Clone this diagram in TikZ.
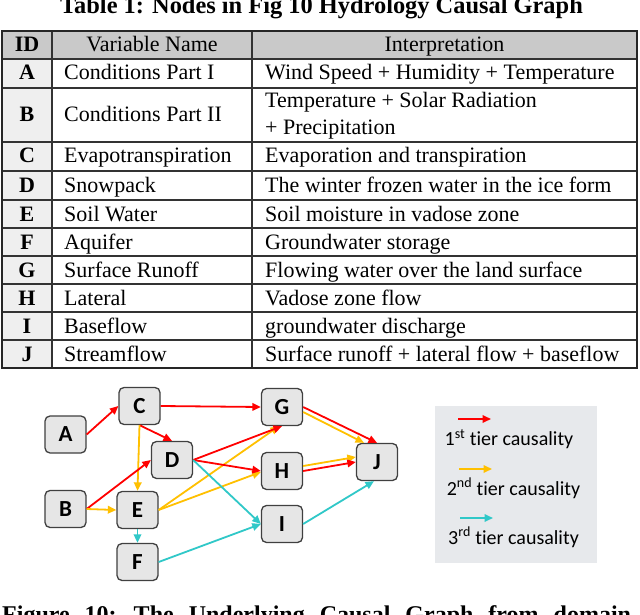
\documentclass[tikz,border=0pt]{standalone}
\usepackage{fontspec}
\setmainfont{Liberation Serif}
\newfontfamily\calibri[Ligatures=NoCommon]{Carlito}
\usepackage{xcolor}
\usepackage{tikz}
\usetikzlibrary{arrows.meta,positioning}
\definecolor{tred}{HTML}{FF0000}
\definecolor{tgold}{HTML}{FFC000}
\definecolor{tcyan}{HTML}{30C8C8}
\definecolor{boxgray}{HTML}{E6E6E6}
\definecolor{headgray}{HTML}{C9C9C9}
\definecolor{idgray}{HTML}{EFEFEF}
\definecolor{leggray}{HTML}{E7E9EC}

\begin{document}
\begin{tikzpicture}[x=1pt,y=-1pt,
  var/.style={draw=black!75, fill=boxgray, rounded corners=5pt, line width=1.3pt,
              minimum width=41pt, minimum height=37pt, inner sep=0pt,
              font=\calibri\bfseries\fontsize{23}{26}\selectfont},
  tier1/.style={draw=tred, line width=1.8pt, -{Triangle[length=8.5pt,width=7.5pt]}},
  tier2/.style={tier1, draw=tgold},
  tier3/.style={tier1, draw=tcyan},
  cell/.style={anchor=base west, inner sep=0pt, font=\fontsize{22}{27}\selectfont},
  idcell/.style={anchor=base, inner sep=0pt, font=\bfseries\fontsize{22}{27}\selectfont},
  legtext/.style={inner sep=0pt, font=\calibri\fontsize{20}{24}\selectfont}]

  \useasboundingbox (0,0) rectangle (640,615);
  \clip (0,0) rectangle (640,615);
  \fill[white] (0,0) rectangle (640,615);

  % titulo e legenda (cortados)
  \node[anchor=base, inner sep=0pt, font=\bfseries\fontsize{24.4}{28}\selectfont] (title)
    at (321.5,14) {Table 1: Nodes in Fig 10 Hydrology Causal Graph};
  \node[anchor=base west, inner sep=0pt, font=\bfseries\fontsize{24}{28}\selectfont] (caption)
    at (2,622) {\spaceskip=15pt Figure 10: The Underlying Causal Graph from domain};

  % tabela: fundos
  \fill[headgray] (2,31) rectangle (637,59);
  \fill[idgray]   (2,59) rectangle (52,368);

  % tabela: linhas
  \foreach \ry in {59,88,142,171,200,228,256,284,312,340}
    \draw[black!80, line width=1.2pt] (2,\ry) -- (637,\ry);
  \draw[black!80, line width=1.2pt] (52,31) -- (52,368);
  \draw[black!80, line width=1.2pt] (252,31) -- (252,368);
  \draw[black!85, line width=1.5pt] (2,31) rectangle (637,368);

  % cabecalho
  \node[idcell] (hid) at (27,52) {ID};
  \node[anchor=base, inner sep=0pt, font=\fontsize{22}{27}\selectfont] (hname) at (152,52) {Variable Name};
  \node[anchor=base, inner sep=0pt, font=\fontsize{22}{27}\selectfont] (hint) at (444.5,52) {Interpretation};

  % linhas da tabela
  \node[idcell] (idA) at (27,80) {A};
  \node[cell] (nameA) at (64,80) {Conditions Part I};
  \node[cell] (intA) at (265,80) {Wind Speed + Humidity + Temperature};

  \node[idcell] (idB) at (27,122) {B};
  \node[cell] (nameB) at (64,122) {Conditions Part II};
  \node[cell] (intB) at (265,108) {Temperature + Solar Radiation};
  \node[cell] (intBb) at (265,135) {+ Precipitation};

  \node[idcell] (idC) at (27,163) {C};
  \node[cell] (nameC) at (64,163) {Evapotranspiration};
  \node[cell] (intC) at (265,163) {Evaporation and transpiration};

  \node[idcell] (idD) at (27,192) {D};
  \node[cell] (nameD) at (64,192) {Snowpack};
  \node[cell] (intD) at (265,192) {The winter frozen water in the ice form};

  \node[idcell] (idE) at (27,221) {E};
  \node[cell] (nameE) at (64,221) {Soil Water};
  \node[cell] (intE) at (265,221) {Soil moisture in vadose zone};

  \node[idcell] (idF) at (27,249) {F};
  \node[cell] (nameF) at (64,249) {Aquifer};
  \node[cell] (intF) at (265,249) {Groundwater storage};

  \node[idcell] (idG) at (27,277) {G};
  \node[cell] (nameG) at (64,277) {Surface Runoff};
  \node[cell] (intG) at (265,277) {Flowing water over the land surface};

  \node[idcell] (idH) at (27,305) {H};
  \node[cell] (nameH) at (64,305) {Lateral};
  \node[cell] (intH) at (265,305) {Vadose zone flow};

  \node[idcell] (idI) at (27,333) {I};
  \node[cell] (nameI) at (64,333) {Baseflow};
  \node[cell] (intI) at (265,333) {groundwater discharge};

  \node[idcell] (idJ) at (27,361) {J};
  \node[cell] (nameJ) at (64,361) {Streamflow};
  \node[cell] (intJ) at (265,361) {Surface runoff + lateral flow + baseflow};

  % grafo: nos
  \node[var] (A) at (65.5,434.5) {A};
  \node[var] (B) at (65.5,509) {B};
  \node[var] (C) at (139.5,406) {C};
  \node[var] (D) at (172,460) {D};
  \node[var] (E) at (137.5,510) {E};
  \node[var] (F) at (137.5,562) {F};
  \node[var] (G) at (282,407) {G};
  \node[var] (H) at (282,471) {H};
  \node[var] (I) at (282,524) {I};
  \node[var] (J) at (377,462) {J};

  % grafo: arestas
  \draw[tier1] (A.east) -- (C.west);
  \draw[tier1] (C.east) -- (G.west);
  \draw[tier1] (C.south) -- (D.north);
  \draw[tier2] (C.south) -- (E.north);
  \draw[tier1] (B.east) -- (D.west);
  \draw[tier2] (B.east) -- (E.west);
  \draw[tier3] (E.south) -- (F.north);
  \draw[tier2] (E.east) -- ([xshift=-3pt]G.south);
  \draw[tier2] (E.east) -- ([yshift=-1pt]H.west);
  \draw[tier1] (D.east) -- (G.south);
  \draw[tier1] (D.east) -- (H.west);
  \draw[tier3] (D.east) -- (I.west);
  \draw[tier3] (F.east) -- (I.west);
  \draw[tier3] (I.east) -- ([xshift=-3pt]J.south);
  \draw[tier1] (G.east) -- (J.north);
  \draw[tier2] ([yshift=-5pt]G.east) -- ([xshift=-13pt]J.north);
  \draw[tier2] ([yshift=5pt]H.east) -- ([yshift=5pt]J.west);
  \draw[tier1] (H.east) -- (J.west);

  % legenda
  \fill[leggray] (435,406) rectangle (597,563);
  \coordinate (l1s) at (458,419); \coordinate (l1e) at (491,419);
  \coordinate (l2s) at (459,469); \coordinate (l2e) at (492,469);
  \coordinate (l3s) at (460,518); \coordinate (l3e) at (493,518);
  \draw[tier1] (l1s) -- (l1e);
  \draw[tier2] (l2s) -- (l2e);
  \draw[tier3] (l3s) -- (l3e);
  \node[legtext] (leg1) at (509,439) {1\textsuperscript{st} tier causality};
  \node[legtext] (leg2) at (513.5,488) {2\textsuperscript{nd} tier causality};
  \node[legtext] (leg3) at (513.5,537) {3\textsuperscript{rd} tier causality};

\end{tikzpicture}
\end{document}
